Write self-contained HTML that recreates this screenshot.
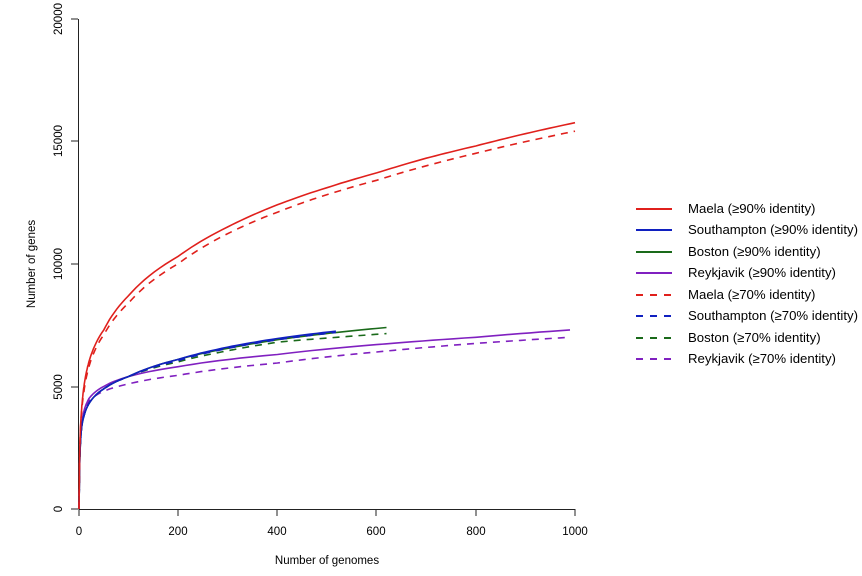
<!DOCTYPE html>
<html><head><style>body{margin:0;background:#fff}svg{display:block}text{font-family:"Liberation Sans",Arial,sans-serif;fill:#000}</style></head>
<body>
<svg id="s" width="862" height="576" viewBox="0 0 862 576" xmlns="http://www.w3.org/2000/svg">
<g stroke="#222" stroke-width="1" fill="none">
<line x1="78.5" y1="19" x2="78.5" y2="509"/>
<line x1="79" y1="509.5" x2="575" y2="509.5"/>
<line x1="79" y1="509" x2="79" y2="516"/><line x1="178" y1="509" x2="178" y2="516"/><line x1="277" y1="509" x2="277" y2="516"/><line x1="376" y1="509" x2="376" y2="516"/><line x1="476" y1="509" x2="476" y2="516"/><line x1="575" y1="509" x2="575" y2="516"/>
<line x1="71" y1="509" x2="78" y2="509"/><line x1="71" y1="387" x2="78" y2="387"/><line x1="71" y1="264" x2="78" y2="264"/><line x1="71" y1="141" x2="78" y2="141"/><line x1="71" y1="19" x2="78" y2="19"/>
</g>
<g font-size="11.5" text-anchor="middle">
<text x="79" y="535">0</text><text x="178" y="535">200</text><text x="277" y="535">400</text><text x="376" y="535">600</text><text x="476" y="535">800</text><text x="575" y="535">1000</text>
<text transform="translate(62,509) rotate(-90)">0</text>
<text transform="translate(62,387) rotate(-90)">5000</text>
<text transform="translate(62,264) rotate(-90)">10000</text>
<text transform="translate(62,141) rotate(-90)">15000</text>
<text transform="translate(62,19) rotate(-90)">20000</text>
<text x="327" y="564">Number of genomes</text>
<text transform="translate(35,264) rotate(-90)">Number of genes</text>
</g>
<g id="curves" fill="none" stroke-width="1.6"></g>
<g font-size="13.2">
<g stroke-width="2">
<line x1="636" y1="209" x2="672" y2="209" stroke="#e0201c"/>
<line x1="636" y1="230" x2="672" y2="230" stroke="#1020c0"/>
<line x1="636" y1="252" x2="672" y2="252" stroke="#1a6a1a"/>
<line x1="636" y1="273" x2="672" y2="273" stroke="#8020c0"/>
<line x1="636" y1="295" x2="672" y2="295" stroke="#e0201c" stroke-dasharray="7,7"/>
<line x1="636" y1="316" x2="672" y2="316" stroke="#1020c0" stroke-dasharray="7,7"/>
<line x1="636" y1="338" x2="672" y2="338" stroke="#1a6a1a" stroke-dasharray="7,7"/>
<line x1="636" y1="359" x2="672" y2="359" stroke="#8020c0" stroke-dasharray="7,7"/>
</g>
<text x="688" y="213">Maela (≥90% identity)</text>
<text x="688" y="234">Southampton (≥90% identity)</text>
<text x="688" y="256">Boston (≥90% identity)</text>
<text x="688" y="277">Reykjavik (≥90% identity)</text>
<text x="688" y="299">Maela (≥70% identity)</text>
<text x="688" y="320">Southampton (≥70% identity)</text>
<text x="688" y="342">Boston (≥70% identity)</text>
<text x="688" y="363">Reykjavik (≥70% identity)</text>
</g>
</svg>
<script>
const S=[
["#8020c0",0,[[1,1500],[5,3400],[10,4000],[20,4500],[50,5000],[100,5400],[200,5800],[400,6300],[600,6700],[800,7000],[990,7300]]],
["#8020c0",1,[[1,1500],[5,3300],[10,3900],[20,4400],[50,4800],[100,5100],[200,5450],[400,5950],[600,6400],[800,6750],[990,7000]]],
["#1a6a1a",1,[[1,1500],[5,3300],[10,3800],[20,4300],[50,4900],[100,5400],[200,6000],[300,6450],[400,6800],[520,7000],[620,7150]]],
["#1a6a1a",0,[[1,1500],[5,3300],[10,3800],[20,4300],[50,4900],[100,5400],[200,6100],[300,6550],[400,6900],[520,7200],[620,7400]]],
["#1020c0",1,[[1,1500],[5,3300],[10,3800],[20,4300],[50,4900],[100,5400],[200,6050],[300,6550],[400,6900],[518,7200]]],
["#1020c0",0,[[1,1500],[5,3300],[10,3800],[20,4300],[50,4900],[100,5400],[200,6100],[300,6600],[400,6950],[518,7250]]],
["#e0201c",1,[[1,1800],[5,3900],[10,4800],[20,5800],[50,7100],[100,8400],[200,10000],[400,12100],[600,13400],[800,14500],[1000,15400]]],
["#e0201c",0,[[1,1800],[5,4000],[10,5000],[20,6000],[50,7300],[100,8700],[200,10300],[300,11500],[400,12400],[500,13100],[600,13700],[700,14300],[800,14800],[900,15300],[1000,15750]]]];
let g=document.getElementById('curves'),h='';
for(const [c,d,p] of S){let pts=[[79,509]];
for(let i=0;i<p.length-1;i++){const [n0,y0]=p[i],[n1,y1]=p[i+1];const a=Math.log(n0),b=Math.log(n1);
for(let k=0;k<10;k++){const t=k/10;const n=Math.exp(a+(b-a)*t);const y=y0+(y1-y0)*t;pts.push([79+n*0.496,509-y*0.02453]);}}
const l=p[p.length-1];pts.push([79+l[0]*0.496,509-l[1]*0.02453]);
h+=`<polyline stroke="${c}" ${d?'stroke-dasharray="7,6"':''} points="${pts.map(q=>q[0].toFixed(1)+','+q[1].toFixed(1)).join(' ')}"/>`;}
g.innerHTML=h;
</script>
</body></html>
